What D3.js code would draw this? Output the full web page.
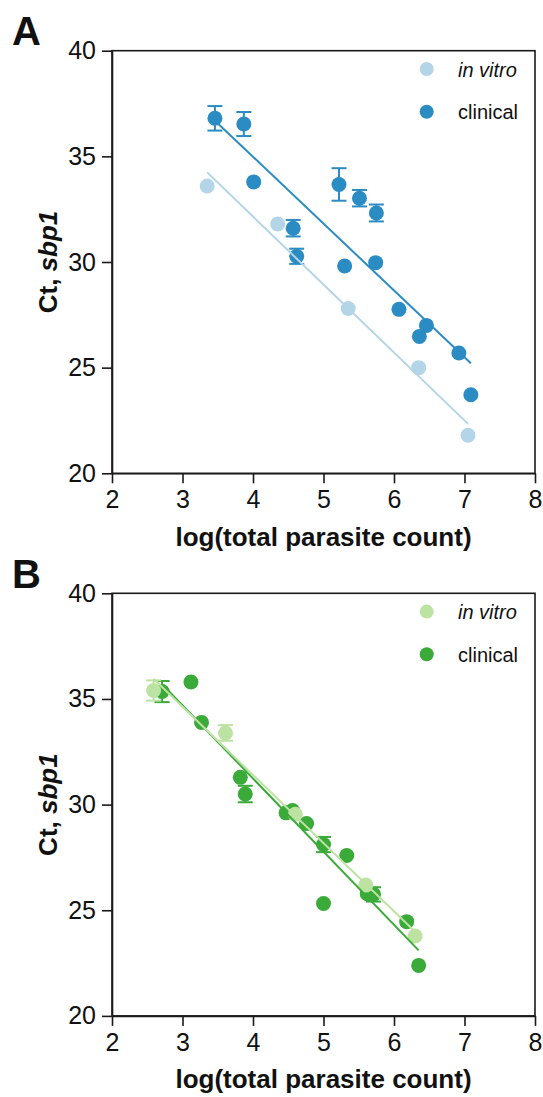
<!DOCTYPE html>
<html>
<head>
<meta charset="utf-8">
<script src="https://cdn.jsdelivr.net/npm/d3@7"></script>
<style>
  body { margin: 0; background: #fff; }
  svg { font-family: "Liberation Sans", Arial, sans-serif; }
</style>
</head>
<body>
<main></main>
<script>
// panel A - in vitro
const aVitroX = [3.35, 4.35, 5.35, 6.35, 7.05]
const aVitroY = [33.6, 31.8, 27.8, 25.0, 21.8]
const aVitroErr = [0, 0, 0, 0, 0]

// panel A - clinical
const aClinX = [3.46, 3.87, 4.01, 4.57, 4.62, 5.22, 5.51, 5.75, 5.3, 5.74, 6.07, 6.46, 6.36, 6.92, 7.09]
const aClinY = [36.8, 36.53, 33.79, 31.6, 30.27, 33.67, 33.02, 32.32, 29.81, 29.97, 27.76, 27.0, 26.48, 25.69, 23.72]
const aClinErr = [0.58, 0.57, 0, 0.39, 0.36, 0.77, 0.39, 0.4, 0, 0, 0, 0, 0, 0, 0]

// panel B - in vitro
const bVitroX = [2.59, 3.61, 4.6, 5.6, 6.3]
const bVitroY = [35.4, 33.39, 29.54, 26.19, 23.78]
const bVitroErr = [0.48, 0.37, 0, 0, 0]

// panel B - clinical
const bClinX = [2.71, 3.12, 3.27, 3.82, 3.89, 4.47, 4.56, 4.76, 5.0, 5.33, 5.0, 5.62, 5.71, 6.18, 6.35]
const bClinY = [35.35, 35.8, 33.89, 31.29, 30.5, 29.61, 29.72, 29.1, 28.11, 27.59, 25.32, 25.78, 25.75, 24.46, 22.39]
const bClinErr = [0.5, 0, 0, 0, 0.39, 0, 0, 0, 0.36, 0, 0, 0, 0.34, 0, 0]

const xTicks = [2, 3, 4, 5, 6, 7, 8]
const yTicks = [20, 25, 30, 35, 40]
const legendLabels = ["in vitro", "clinical"]
const panelLetters = ["A", "B"]
const xTitle = "log(total parasite count)"

const w = 543
const h = 1097
const left = 112
const right = 535
const plotH = 422.6
const panelTops = [50.7, 593.3]

const svg = d3.select("main").append("svg").attr("width", w).attr("height", h)

const zip = (xs, ys, es) => xs.map((x, i) => ({ x: x, y: ys[i], e: es[i] }))

// least squares fit, returns endpoints over the data range
const fitLine = (pts) => {
  const mx = d3.mean(pts, (d) => d.x)
  const my = d3.mean(pts, (d) => d.y)
  const sxy = d3.sum(pts, (d) => (d.x - mx) * (d.y - my))
  const sxx = d3.sum(pts, (d) => (d.x - mx) ** 2)
  const b = sxy / sxx
  const a = my - b * mx
  const [x0, x1] = d3.extent(pts, (d) => d.x)
  return [{ x: x0, y: a + b * x0 }, { x: x1, y: a + b * x1 }]
}

const drawPanel = (g, top, letter, series) => {
  const x = d3.scaleLinear().domain([2, 8]).range([left, right])
  const y = d3.scaleLinear().domain([20, 40]).range([top + plotH, top])

  // frame
  g.append("rect")
    .attr("x", left)
    .attr("y", top)
    .attr("width", right - left)
    .attr("height", plotH)
    .attr("fill", "none")
    .attr("stroke", "#1a1a1a")
    .attr("stroke-width", 1.6)

  const xAxis = g.append("g")
    .attr("transform", `translate(0, ${top + plotH})`)
    .call(d3.axisBottom(x).tickValues(xTicks).tickFormat(d3.format("d"))
      .tickSize(10).tickSizeOuter(0).tickPadding(7))
  const yAxis = g.append("g")
    .attr("transform", `translate(${left}, 0)`)
    .call(d3.axisLeft(y).tickValues(yTicks).tickFormat(d3.format("d"))
      .tickSize(10).tickSizeOuter(0).tickPadding(6))

  ;[xAxis, yAxis].forEach((ax) => {
    ax.select(".domain").attr("stroke", "#1a1a1a").attr("stroke-width", 1.6)
    ax.selectAll(".tick line").attr("stroke", "#1a1a1a").attr("stroke-width", 1.6)
    ax.selectAll(".tick text")
      .attr("fill", "#111")
      .style("font-size", "25px")
      .style("font-family", "'Liberation Sans', Arial, sans-serif")
  })

  // points and error bars, clinical first so in vitro sits on top
  series.forEach((s) => {
    const withErr = s.pts.filter((d) => d.e > 0)
    const eb = g.append("g").attr("stroke", s.color).attr("stroke-width", 2)
    eb.selectAll("line.v")
      .data(withErr)
      .enter()
      .append("line")
      .attr("x1", (d) => x(d.x))
      .attr("x2", (d) => x(d.x))
      .attr("y1", (d) => y(d.y - d.e))
      .attr("y2", (d) => y(d.y + d.e))
    eb.selectAll("line.top")
      .data(withErr)
      .enter()
      .append("line")
      .attr("x1", (d) => x(d.x) - 7.5)
      .attr("x2", (d) => x(d.x) + 7.5)
      .attr("y1", (d) => y(d.y + d.e))
      .attr("y2", (d) => y(d.y + d.e))
    eb.selectAll("line.bot")
      .data(withErr)
      .enter()
      .append("line")
      .attr("x1", (d) => x(d.x) - 7.5)
      .attr("x2", (d) => x(d.x) + 7.5)
      .attr("y1", (d) => y(d.y - d.e))
      .attr("y2", (d) => y(d.y - d.e))

    g.append("g")
      .selectAll("circle")
      .data(s.pts)
      .enter()
      .append("circle")
      .attr("cx", (d) => x(d.x))
      .attr("cy", (d) => y(d.y))
      .attr("r", 7.5)
      .attr("fill", s.color)
  })

  // regression lines
  series.forEach((s) => {
    const ends = fitLine(s.pts)
    g.append("line")
      .attr("x1", x(ends[0].x))
      .attr("y1", y(ends[0].y))
      .attr("x2", x(ends[1].x))
      .attr("y2", y(ends[1].y))
      .attr("stroke", s.color)
      .attr("stroke-width", 2)
  })

  // legend (in vitro row first)
  const legendRows = [series[1], series[0]]
  legendRows.forEach((s, i) => {
    const cy = top + 18.3 + i * 42.7
    g.append("circle").attr("cx", 426.7).attr("cy", cy).attr("r", 7).attr("fill", s.color)
    g.append("text")
      .attr("x", 458)
      .attr("y", cy + 7.5)
      .attr("fill", "#111")
      .style("font-size", "20px")
      .style("font-style", i === 0 ? "italic" : "normal")
      .text(legendLabels[i])
  })

  // axis titles
  g.append("text")
    .attr("x", (left + right) / 2)
    .attr("y", top + plotH + 72.5)
    .attr("text-anchor", "middle")
    .attr("fill", "#111")
    .style("font-size", "26px")
    .style("font-weight", "bold")
    .text(xTitle)

  const yt = g.append("text")
    .attr("transform", `translate(56.7, ${top + plotH / 2}) rotate(-90)`)
    .attr("text-anchor", "middle")
    .attr("fill", "#111")
    .style("font-size", "26px")
    .style("font-weight", "bold")
  yt.append("tspan").text("Ct, ")
  yt.append("tspan").style("font-style", "italic").text("sbp1")

  g.append("text")
    .attr("x", 12)
    .attr("y", top - 5.7)
    .attr("fill", "#111")
    .style("font-size", "40px")
    .style("font-weight", "bold")
    .text(letter)
}

drawPanel(svg.append("g"), panelTops[0], panelLetters[0], [
  { pts: zip(aClinX, aClinY, aClinErr), color: "#2b8cc4" },
  { pts: zip(aVitroX, aVitroY, aVitroErr), color: "#b4d5e8" },
])

drawPanel(svg.append("g"), panelTops[1], panelLetters[1], [
  { pts: zip(bClinX, bClinY, bClinErr), color: "#3aaa38" },
  { pts: zip(bVitroX, bVitroY, bVitroErr), color: "#bde3a3" },
])
</script>
</body>
</html>
